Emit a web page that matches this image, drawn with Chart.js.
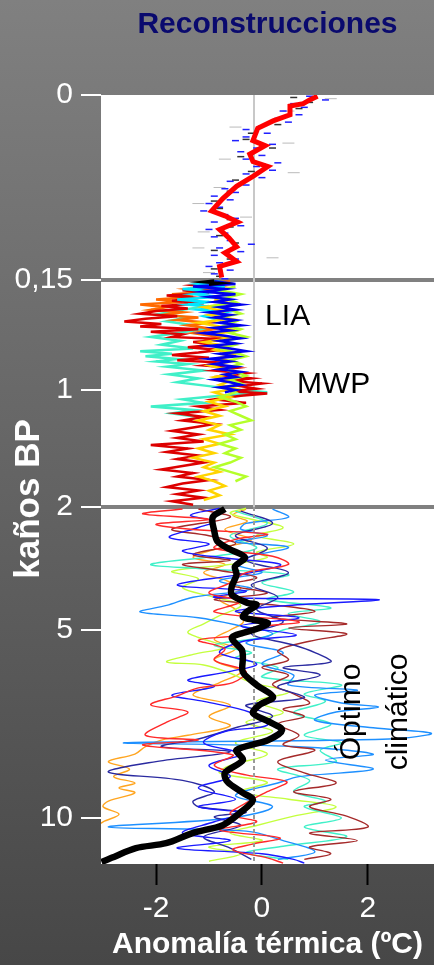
<!DOCTYPE html>
<html>
<head>
<meta charset="utf-8">
<script src="https://cdn.jsdelivr.net/npm/chart.js@4.4.1/dist/chart.umd.min.js"></script>
<style>
  html, body { margin: 0; padding: 0; }
  body { width: 434px; height: 965px; overflow: hidden; background: linear-gradient(#808080, #474747); }
  canvas { display: block; }
</style>
</head>
<body>
<canvas id="chart" width="434" height="965"></canvas>
<script>
// depth axis: ages in kyr BP, drawn on a broken (piecewise) scale
const ageStops = [0, 0.15, 1, 2, 5, 10];
const ageLabels = ['0', '0,15', '1', '2', '5', '10'];
const stopPos = [0, 185, 295, 412, 535, 723];
const axisEnd = 769;
const tempTicks = [-2, 0, 2];

// series as [age kyr, anomaly ºC]
// last 150 years
const redTop = [[0.001,1.05],[0.004,0.9],[0.007,0.78],[0.009,0.53],[0.016,0.53],[0.021,0.21],[0.027,-0.08],[0.037,-0.17],[0.041,0.06],[0.048,-0.23],[0.054,-0.17],[0.058,0.11],[0.066,-0.17],[0.074,-0.48],[0.084,-0.74],[0.094,-0.95],[0.098,-0.70],[0.103,-0.46],[0.109,-0.80],[0.116,-0.62],[0.123,-0.48],[0.128,-0.70],[0.135,-0.48],[0.139,-0.80],[0.148,-0.76]];
const blueTop = [[0.001,0.9],[0.004,1.2],[0.007,0.6],[0.010,0.8],[0.013,0.4],[0.016,0.7],[0.019,0.3],[0.022,0.5],[0.025,0.0],[0.028,-0.3],[0.031,0.1],[0.034,-0.3],[0.037,-0.5],[0.040,0.2],[0.043,-0.1],[0.046,-0.4],[0.049,0.0],[0.052,-0.3],[0.055,0.3],[0.058,-0.1],[0.061,0.2],[0.064,-0.3],[0.067,0.0],[0.070,-0.6],[0.073,-0.3],[0.076,-0.7],[0.079,-0.5],[0.082,-0.9],[0.085,-0.6],[0.088,-1.0],[0.091,-0.8],[0.094,-1.1],[0.097,-0.7],[0.100,-0.5],[0.103,-0.9],[0.106,-0.4],[0.109,-1.0],[0.112,-0.7],[0.115,-0.9],[0.118,-0.6],[0.121,-0.2],[0.124,-0.8],[0.127,-0.4],[0.130,-0.9],[0.133,-0.5],[0.136,-0.8],[0.139,-1.0],[0.142,-0.6],[0.145,-0.9],[0.149,-0.7]];
const grayTop = [[0.002,0.6],[0.006,0.9],[0.011,0.7],[0.018,0.4],[0.024,0.3],[0.031,-0.2],[0.036,-0.3],[0.043,0.2],[0.050,-0.4],[0.056,0.0],[0.062,-0.2],[0.069,-0.5],[0.078,-0.6],[0.086,-0.9],[0.092,-0.8],[0.101,-0.6],[0.107,-0.6],[0.114,-0.8],[0.120,-0.5],[0.126,-0.9],[0.133,-0.6],[0.141,-0.9],[0.147,-0.8]];
const paleTop = [[0.003,1.3],[0.013,0.5],[0.026,-0.5],[0.039,0.5],[0.052,-0.7],[0.063,0.6],[0.075,-0.8],[0.088,-1.2],[0.099,-0.3],[0.111,-1.1],[0.124,-1.2],[0.132,0.2],[0.144,-1.0]];

// last 2000 years
const redMid = [[0.17,-0.9],[0.19,-1.3],[0.21,-0.8],[0.23,-1.5],[0.25,-1.0],[0.27,-1.8],[0.29,-1.2],[0.31,-1.7],[0.33,-1.1],[0.35,-1.9],[0.37,-1.4],[0.39,-2.0],[0.41,-2.3],[0.43,-1.6],[0.45,-2.2],[0.47,-2.6],[0.49,-1.9],[0.51,-2.3],[0.53,-1.2],[0.55,-2.1],[0.57,-1.5],[0.59,-1.7],[0.61,-0.6],[0.63,-1.3],[0.65,-0.9],[0.67,-1.4],[0.69,-0.8],[0.71,-1.2],[0.73,-1.7],[0.75,-1.0],[0.77,-1.6],[0.79,-0.7],[0.81,-1.1],[0.83,-0.5],[0.85,-0.9],[0.87,-0.3],[0.89,-0.7],[0.91,-0.2],[0.93,-0.6],[0.95,0.0],[0.97,-0.4],[0.99,-0.1],[1.01,-0.6],[1.03,0.1],[1.05,-0.4],[1.08,-0.9],[1.11,-0.3],[1.14,-1.2],[1.17,-0.8],[1.20,-1.6],[1.23,-1.1],[1.26,-1.5],[1.29,-0.9],[1.32,-1.3],[1.35,-1.7],[1.38,-1.2],[1.41,-1.6],[1.44,-1.1],[1.47,-2.1],[1.50,-1.4],[1.53,-1.8],[1.56,-1.2],[1.59,-1.6],[1.62,-1.1],[1.65,-1.5],[1.68,-1.9],[1.71,-1.3],[1.74,-1.6],[1.77,-1.0],[1.80,-1.5],[1.83,-1.8],[1.86,-1.2],[1.89,-1.6],[1.92,-1.1],[1.95,-1.7],[1.98,-1.3]];
const orangeMid = [[0.16,-0.6],[0.18,-1.1],[0.20,-0.8],[0.22,-1.4],[0.24,-1.0],[0.26,-1.7],[0.28,-1.3],[0.30,-2.0],[0.32,-1.5],[0.34,-2.3],[0.36,-1.8],[0.38,-2.1],[0.40,-1.5],[0.42,-1.9],[0.44,-1.2],[0.46,-1.6],[0.48,-1.0],[0.50,-1.4],[0.53,-0.9],[0.56,-1.3],[0.59,-0.8],[0.62,-1.1]];
const cyanMid = [[0.16,-0.8],[0.18,-1.2],[0.20,-0.7],[0.22,-1.5],[0.24,-0.9],[0.26,-1.3],[0.28,-0.8],[0.30,-1.6],[0.32,-1.0],[0.34,-1.4],[0.36,-0.9],[0.38,-1.2],[0.40,-0.7],[0.43,-1.1],[0.46,-0.8]];
const aquaMid = [[0.35,-1.0],[0.38,-1.5],[0.41,-1.9],[0.44,-1.4],[0.47,-1.8],[0.50,-1.3],[0.53,-1.1],[0.56,-1.6],[0.59,-2.1],[0.62,-1.55],[0.65,-1.9],[0.68,-1.3],[0.70,-2.3],[0.72,-1.7],[0.74,-2.2],[0.76,-1.6],[0.78,-2.0],[0.80,-1.4],[0.82,-1.8],[0.85,-1.1],[0.88,-1.75],[0.91,-1.2],[0.94,-1.6],[0.97,-1.0],[1.00,-0.4],[1.02,0.1],[1.05,-0.8],[1.08,-1.5],[1.11,-1.1],[1.14,-2.1],[1.17,-1.3],[1.20,-1.7],[1.23,-1.2]];
const blueMid = [[0.16,-0.9],[0.18,-0.5],[0.20,-1.3],[0.22,-0.7],[0.24,-1.1],[0.26,-0.5],[0.28,-1.0],[0.30,-0.6],[0.32,-0.9],[0.34,-0.4],[0.36,-0.8],[0.38,-0.5],[0.40,-1.0],[0.42,-0.6],[0.44,-0.9],[0.46,-0.5],[0.48,-0.8],[0.50,-0.4],[0.52,-0.9],[0.54,-0.6],[0.56,-1.1],[0.58,-0.7],[0.60,-0.4],[0.62,-0.8],[0.64,-0.5],[0.66,-1.0],[0.68,-0.6],[0.70,-0.3],[0.72,-0.8],[0.74,-0.5],[0.76,-1.0],[0.78,-0.6],[0.80,-0.9],[0.82,-0.5],[0.84,-0.8],[0.86,-0.4],[0.88,-0.7],[0.90,-0.5],[0.92,-0.9],[0.94,-0.6],[0.96,-0.4],[0.98,-0.8],[1.00,-0.5],[1.02,-0.7]];
const yellowMid = [[0.30,-0.9],[0.33,-0.6],[0.36,-1.1],[0.39,-0.7],[0.42,-1.0],[0.45,-0.6],[0.48,-1.2],[0.51,-0.8],[0.54,-0.5],[0.57,-0.9],[0.60,-0.6],[0.63,-1.1],[0.66,-0.7],[0.69,-0.9],[0.72,-0.5],[0.75,-0.8],[0.78,-0.6],[0.81,-1.0],[0.84,-0.7],[0.87,-0.5],[0.90,-0.9],[0.93,-0.6],[0.96,-0.8],[0.99,-0.5],[1.02,-0.9],[1.06,-0.6],[1.10,-1.0],[1.14,-0.7],[1.18,-1.1],[1.22,-0.8],[1.26,-1.2],[1.30,-0.8],[1.34,-1.0],[1.38,-0.6],[1.42,-1.1],[1.46,-0.8],[1.50,-1.2],[1.54,-0.9],[1.58,-1.3],[1.62,-0.9],[1.66,-1.1],[1.70,-0.8],[1.74,-1.2],[1.78,-0.9],[1.82,-0.7],[1.86,-1.0],[1.90,-0.8],[1.94,-1.1]];
const limeMid = [[0.20,-0.5],[0.23,-0.8],[0.26,-0.4],[0.29,-0.7],[0.32,-0.5],[0.35,-0.9],[0.38,-0.6],[0.41,-0.4],[0.44,-0.8],[0.47,-0.5],[0.50,-0.7],[0.53,-0.4],[0.56,-0.6],[0.59,-0.3],[0.62,-0.7],[0.65,-0.5],[0.68,-0.8],[0.71,-0.5],[0.74,-0.3],[0.77,-0.6],[0.80,-0.4],[0.83,-0.7],[0.86,-0.5],[0.89,-0.3],[0.92,-0.6],[0.95,-0.4],[0.98,-0.7],[1.02,-0.5],[1.06,-0.8],[1.10,-0.5],[1.14,-0.3],[1.18,-0.6],[1.22,-0.4],[1.26,-0.2],[1.30,-0.6],[1.34,-0.4],[1.38,-0.7],[1.42,-0.5],[1.46,-0.8],[1.50,-0.5],[1.54,-0.7],[1.58,-0.4],[1.62,-0.6],[1.66,-0.9],[1.70,-0.6],[1.74,-0.3],[1.78,-0.5]];
const blackMid = [[0.155,-0.9],[0.165,-1.1],[0.175,-0.8],[0.185,-1.0]];

// Holocene
const blackHol = [[2.05,-0.70],[2.25,-0.93],[2.59,-0.90],[2.84,-0.84],[3.03,-0.61],[3.23,-0.32],[3.45,-0.51],[3.65,-0.48],[3.94,-0.57],[4.14,-0.57],[4.34,-0.27],[4.39,-0.10],[4.56,-0.29],[4.68,-0.36],[4.75,-0.17],[4.83,0.11],[4.95,-0.05],[5.08,-0.36],[5.21,-0.57],[5.53,-0.38],[5.74,-0.36],[6.12,-0.36],[6.46,-0.10],[6.78,0.21],[6.99,-0.04],[7.21,-0.17],[7.45,0.15],[7.66,0.38],[7.93,0.11],[8.19,-0.48],[8.46,-0.36],[8.80,-0.70],[9.04,-0.65],[9.33,-0.36],[9.52,-0.17],[9.87,-0.42],[10.19,-0.74],[10.40,-1.31],[10.67,-1.81],[10.80,-2.38],[11.06,-2.84],[11.17,-3.03]];
const redHol = [[2.05,-1.5],[2.17,-2.25],[2.30,-1.0],[2.42,-2.0],[2.55,-1.3],[2.66,0.1],[2.79,-0.5],[3.0,-0.9],[3.2,0.2],[3.4,0.5],[3.6,-0.3],[3.85,-0.6],[4.1,-1.0],[4.3,-0.4],[4.56,-0.9],[4.8,0.7],[4.95,-0.2],[5.13,-0.4],[5.27,-1.2],[5.5,-0.7],[5.8,-0.9],[6.1,-0.3],[6.4,-0.55],[6.54,-1.2],[6.75,-1.6],[6.99,-2.1],[7.18,-1.4],[7.45,-1.8],[7.8,-2.2],[7.93,-1.2],[8.06,-2.25],[8.32,-0.55],[8.6,-0.9],[8.86,-0.28],[9.04,0.47],[9.3,0.1],[9.6,-0.3],[9.9,-0.6],[10.1,-0.1],[10.32,-0.8],[10.53,0.34],[10.7,-0.2],[10.85,-0.55],[11.06,0.1],[11.2,0.4]];
const blueHol = [[2.03,-0.8],[2.2,-1.35],[2.35,-0.9],[2.5,-1.2],[2.74,-1.75],[2.9,-1.0],[3.08,-1.5],[3.25,-0.65],[3.4,0.35],[3.6,-0.2],[3.9,-1.6],[4.05,-0.3],[4.2,-0.9],[4.26,2.2],[4.4,0.5],[4.55,-0.5],[4.7,0.7],[4.9,-0.4],[5.13,0.65],[5.3,-0.35],[5.6,-0.8],[5.9,-0.1],[6.1,-0.6],[6.33,-1.4],[6.5,-0.9],[6.73,-1.7],[6.9,-1.1],[7.2,-0.2],[7.53,0.1],[7.7,-0.7],[8.0,-1.1],[8.3,-0.4],[8.6,-1.0],[8.9,-0.6],[9.2,-1.2],[9.5,-0.5],[9.7,-1.2],[9.87,-0.4],[10.1,-0.9],[10.4,-1.5],[10.6,-0.6],[10.8,-1.6],[10.95,0.0],[11.1,0.6],[11.2,0.8]];
const navyHol = [[2.1,-0.4],[2.4,0.2],[2.7,-0.5],[3.0,0.1],[3.3,-0.3],[3.6,0.5],[3.9,-0.2],[4.2,0.3],[4.5,-0.1],[4.8,0.4],[5.1,-0.2],[5.4,0.6],[5.6,1.0],[5.85,1.3],[6.0,0.4],[6.2,1.1],[6.5,0.3],[6.8,0.8],[7.0,-0.3],[7.3,0.2],[7.6,-0.5],[7.9,-1.2],[8.1,-1.9],[8.24,-0.6],[8.5,-2.0],[8.78,-2.9],[9.0,-1.5],[9.3,-0.9],[9.55,-1.3],[9.7,-1.2],[9.85,-0.3],[9.97,-0.9],[10.2,-0.4],[10.5,-1.1],[10.8,-0.6],[11.1,-0.2]];
const brownHol = [[2.05,-1.2],[2.25,-0.6],[2.54,-1.7],[2.7,-1.0],[2.9,-0.5],[3.16,-1.3],[3.3,-0.6],[3.4,-1.5],[3.55,-0.8],[3.72,-0.1],[3.9,-0.6],[4.1,0.1],[4.26,-0.9],[4.4,0.3],[4.55,1.0],[4.7,0.2],[4.85,1.6],[4.95,0.5],[5.1,1.6],[5.3,0.9],[5.55,0.3],[5.8,0.5],[6.0,0.0],[6.2,0.5],[6.45,0.2],[6.7,0.6],[6.95,0.9],[7.1,0.4],[7.3,0.8],[7.5,0.3],[7.8,0.7],[8.05,0.4],[8.2,1.0],[8.5,0.3],[8.8,0.8],[9.07,1.4],[9.3,0.6],[9.5,1.3],[9.7,0.9],[9.95,1.6],[10.24,2.0],[10.4,0.9],[10.6,1.8],[10.77,0.9],[10.95,1.3],[11.1,0.8]];
const skyHol = [[2.05,0.2],[2.25,0.5],[2.4,-0.3],[2.54,-0.4],[2.7,0.1],[2.85,-0.5],[2.98,0.5],[3.2,-0.2],[3.4,-0.5],[3.6,0.0],[3.8,-0.8],[4.0,-0.2],[4.2,-1.3],[4.4,-1.8],[4.56,-2.3],[4.7,-1.2],[4.9,-0.4],[5.1,0.2],[5.35,-0.3],[5.6,0.4],[5.9,0.0],[6.2,0.6],[6.46,0.5],[6.6,1.8],[6.73,1.0],[6.94,1.5],[7.05,2.2],[7.18,1.4],[7.4,1.0],[7.6,2.1],[7.75,3.2],[7.9,2.4],[8.0,-2.6],[8.1,0.6],[8.3,2.1],[8.46,1.2],[8.7,2.1],[8.9,0.7],[9.07,0.3],[9.4,-0.5],[9.7,0.2],[10.0,-0.6],[10.24,-2.9],[10.35,-0.3],[10.6,0.4],[10.9,1.0],[11.1,0.3]];
const aquaHol = [[2.1,-0.5],[2.4,0.1],[2.7,-0.6],[3.0,-0.1],[3.2,-0.9],[3.4,-2.1],[3.5,-1.2],[3.65,0.5],[3.85,0.0],[4.07,0.6],[4.25,0.1],[4.46,1.3],[4.6,0.5],[4.8,1.1],[5.0,0.4],[5.2,0.0],[5.4,-0.9],[5.6,-0.2],[5.74,-0.5],[6.0,0.3],[6.25,0.0],[6.46,1.5],[6.7,0.8],[6.9,1.2],[7.2,0.6],[7.5,1.3],[7.8,0.8],[8.0,1.5],[8.2,1.1],[8.5,1.4],[8.7,0.3],[9.0,0.9],[9.3,0.6],[9.55,1.2],[9.7,0.8],[10.0,1.5],[10.24,0.8],[10.5,1.6],[10.75,0.4],[10.93,-0.3],[11.1,0.5]];
const limeHol = [[2.03,-0.3],[2.15,-0.6],[2.3,-0.2],[2.5,0.4],[2.7,-0.1],[2.9,0.6],[3.1,-0.1],[3.23,0.1],[3.4,-0.6],[3.57,-1.7],[3.75,-1.2],[3.97,-1.5],[4.2,-0.9],[4.4,-0.4],[4.65,-0.8],[4.85,-1.1],[5.05,-1.4],[5.2,-1.2],[5.45,-0.7],[5.65,-1.3],[5.85,-1.8],[5.93,-1.1],[6.15,-0.6],[6.4,-0.2],[6.65,0.5],[6.9,-0.1],[7.2,0.4],[7.45,-0.3],[7.7,0.2],[8.0,-0.5],[8.3,0.1],[8.6,-0.6],[8.8,-0.8],[9.05,0.1],[9.3,-0.4],[9.5,0.5],[9.7,1.4],[9.95,0.6],[10.2,-0.1],[10.4,-0.6],[10.6,0.0],[10.77,-1.0],[10.95,-0.4],[11.15,-1.0]];
const orangeHol = [[2.05,-0.3],[2.2,-0.55],[2.35,-0.28],[2.55,-0.7],[2.8,-0.2],[3.0,-0.8],[3.23,-1.3],[3.4,-0.7],[3.6,-1.1],[3.8,-0.66],[4.0,-0.4],[4.25,-0.8],[4.5,-0.5],[4.8,-0.35],[5.0,-0.6],[5.25,-0.9],[5.5,-0.5],[5.8,-0.9],[6.1,-0.4],[6.4,-0.8],[6.73,-1.3],[7.0,-0.6],[7.3,-1.0],[7.55,-0.6],[7.8,-1.4],[7.93,-1.9],[8.1,-2.2],[8.3,-2.4],[8.5,-2.9],[8.7,-2.5],[8.9,-2.8],[9.07,-2.4],[9.2,-2.7],[9.33,-2.4],[9.55,-2.9],[9.7,-3.0],[9.9,-2.7],[10.1,-3.0],[10.2,-3.1]];

const baseline = -0.15;
const notes = [
  { text: 'LIA', temp: 0.06, age: 0.43, rot: 0 },
  { text: 'MWP', temp: 0.66, age: 0.96, rot: 0 },
  { text: 'Óptimo', temp: 1.69, age: 7.18, rot: -90 },
  { text: 'climático', temp: 2.58, age: 7.18, rot: -90 }
];

function pos(age) {
  for (let i = 1; i < ageStops.length; i++) {
    if (age <= ageStops[i]) {
      const f = (age - ageStops[i - 1]) / (ageStops[i] - ageStops[i - 1]);
      return stopPos[i - 1] + f * (stopPos[i] - stopPos[i - 1]);
    }
  }
  const n = ageStops.length - 1;
  const slope = (stopPos[n] - stopPos[n - 1]) / (ageStops[n] - ageStops[n - 1]);
  return stopPos[n] + (age - ageStops[n]) * slope;
}

function series(pts, color, width, opts) {
  return Object.assign({
    data: pts.map(p => ({ x: p[1], y: pos(p[0]) })),
    borderColor: color,
    borderWidth: width,
    pointRadius: 0,
    tension: 0,
    fill: false
  }, opts || {});
}

// short horizontal dashes, no connecting line
function dashes(pts, color, opts) {
  return series(pts, color, 1.5, Object.assign({
    showLine: false,
    pointStyle: 'line',
    pointRadius: 3.5,
    pointBorderColor: color,
    pointBorderWidth: 1.5
  }, opts || {}));
}

const FONT = "'Liberation Sans', Arial, sans-serif";
Chart.defaults.font.family = FONT;

const chartBg = {
  id: 'chartBg',
  beforeDraw(chart) {
    const { ctx, chartArea: a } = chart;
    ctx.save();
    ctx.fillStyle = '#ffffff';
    ctx.fillRect(a.left, a.top, a.right - a.left, a.bottom - a.top);
    ctx.restore();
  }
};

const labels = {
  id: 'labels',
  afterDraw(chart) {
    const { ctx, scales } = chart;
    ctx.save();
    ctx.textAlign = 'center';
    ctx.textBaseline = 'middle';
    ctx.fillStyle = '#000000';
    ctx.font = '30px ' + FONT;
    notes.forEach(n => {
      const x = scales.x.getPixelForValue(n.temp);
      const y = scales.y.getPixelForValue(pos(n.age));
      ctx.save();
      ctx.translate(x, y);
      ctx.rotate(n.rot * Math.PI / 180);
      if (n.rot === 0) ctx.textAlign = 'left';
      ctx.fillText(n.text, 0, 0);
      ctx.restore();
    });
    // y axis title
    ctx.fillStyle = '#ffffff';
    ctx.font = 'bold 35px ' + FONT;
    ctx.translate(29, 499);
    ctx.rotate(-Math.PI / 2);
    ctx.textAlign = 'center';
    ctx.fillText('kaños BP', 0, 0);
    ctx.restore();
  }
};

new Chart(document.getElementById('chart'), {
  type: 'line',
  data: {
    datasets: [
      series(redTop, '#ff0000', 5, { order: 0 }),
      series(blackHol, '#000000', 6.5, { order: 0, tension: 0.3 }),
      series([[2, baseline], [11.3, baseline]], '#9a9a9a', 2, { order: 1, borderDash: [4, 3] }),
      dashes(blueTop, '#2020ff', { order: 2 }),
      dashes(grayTop, '#333333', { order: 3 }),
      dashes(paleTop, '#bbbbbb', { order: 3, pointRadius: 6, pointBorderWidth: 1 }),
      series(blackMid, '#000000', 3, { order: 4 }),
      series(blueMid, '#0000ee', 2.5, { order: 4 }),
      series(limeMid, '#b4ff2a', 2.5, { order: 5 }),
      series(yellowMid, '#ffd400', 2.5, { order: 5 }),
      series(cyanMid, '#00e8ff', 2.5, { order: 5 }),
      series(redMid, '#dd0000', 2.5, { order: 6 }),
      series(orangeMid, '#ff6a00', 2.5, { order: 6 }),
      series(aquaMid, '#40f0c8', 2.5, { order: 7 }),
      series(redHol, '#ff2a2a', 1.4, { order: 8, tension: 0.35 }),
      series(blueHol, '#1a1aff', 1.4, { order: 8, tension: 0.35 }),
      series(navyHol, '#2a2aa0', 1.4, { order: 8, tension: 0.35 }),
      series(brownHol, '#a52a2a', 1.4, { order: 8, tension: 0.35 }),
      series(skyHol, '#1e90ff', 1.4, { order: 8, tension: 0.35 }),
      series(aquaHol, '#40f0c8', 1.4, { order: 9, tension: 0.35 }),
      series(limeHol, '#c4ff3e', 1.4, { order: 9, tension: 0.35 }),
      series(orangeHol, '#ffa520', 1.4, { order: 9, tension: 0.35 }),
      series([[0, baseline], [2, baseline]], '#c8c8c8', 2, { order: 20 })
    ]
  },
  options: {
    responsive: false,
    animation: false,
    devicePixelRatio: 1,
    layout: { padding: 0, autoPadding: false },
    plugins: {
      legend: { display: false },
      tooltip: { enabled: false },
      title: {
        display: true,
        text: 'Reconstrucciones',
        color: '#0a0a6e',
        fullSize: false,
        font: { size: 30, weight: 'bold', lineHeight: 1.2 },
        padding: { top: 7, bottom: 52 }
      }
    },
    scales: {
      x: {
        type: 'linear',
        min: -3.04,
        max: 3.25,
        afterBuildTicks: s => { s.ticks = tempTicks.map(v => ({ value: v })); },
        afterFit: s => { s.height = 101; s.paddingLeft = 0; s.paddingRight = 0; },
        border: { display: false },
        grid: { drawOnChartArea: false, tickColor: '#000000', tickLength: 21, tickWidth: 2 },
        ticks: { color: '#ffffff', font: { size: 30 }, padding: 6, maxRotation: 0 },
        title: {
          display: true,
          text: 'Anomalía térmica (ºC)',
          color: '#ffffff',
          font: { size: 30, weight: 'bold', lineHeight: 1.2 },
          padding: { top: 0, bottom: 2 }
        }
      },
      y: {
        type: 'linear',
        reverse: true,
        min: 0,
        max: axisEnd,
        z: 1,
        afterBuildTicks: s => { s.ticks = stopPos.map(v => ({ value: v })); },
        afterFit: s => { s.width = 101; },
        border: { display: false },
        grid: {
          color: c => (c.tick && (c.tick.value === stopPos[1] || c.tick.value === stopPos[3])) ? '#808080' : 'rgba(0,0,0,0)',
          lineWidth: 4,
          tickColor: '#ffffff',
          tickLength: 20,
          tickWidth: 2
        },
        ticks: {
          color: '#ffffff',
          font: { size: 30 },
          padding: 8,
          callback: v => ageLabels[stopPos.indexOf(v)]
        }
      }
    }
  },
  plugins: [chartBg, labels]
});
</script>
</body>
</html>
